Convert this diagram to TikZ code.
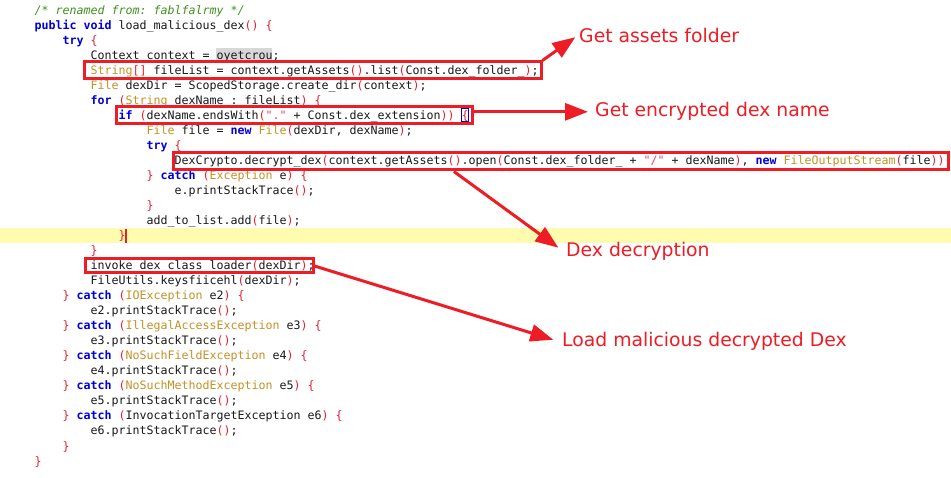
\documentclass[tikz,border=0pt]{standalone}
\usepackage{fontspec}
\setmonofont{DejaVu Sans Mono}
\newfontfamily\notefont{DejaVu Sans}
\usetikzlibrary{arrows.meta,calc}

\definecolor{annot}{RGB}{238,28,36}
\definecolor{codeink}{RGB}{25,25,25}
\definecolor{kwblue}{RGB}{0,0,215}
\definecolor{tygold}{RGB}{197,145,37}
\definecolor{brred}{RGB}{235,30,45}
\definecolor{litpink}{RGB}{232,72,104}
\definecolor{cmtgreen}{RGB}{63,145,30}
\definecolor{curline}{RGB}{255,252,175}
\definecolor{hlgrey}{RGB}{216,216,216}

\newcommand{\kw}[1]{{\bfseries\color{kwblue}#1}}
\newcommand{\ty}[1]{{\color{tygold}#1}}
\newcommand{\br}[1]{{\color{brred}#1}}
\newcommand{\lit}[1]{{\color{litpink}#1}}
\newcommand{\cmt}[1]{{\itshape\color{cmtgreen}#1}}

\frenchspacing

\begin{document}
\begin{tikzpicture}[x=1pt,y=-1pt,
    code/.style={anchor=base west,inner sep=0pt,text=codeink,font=\ttfamily\fontsize{11.63}{15}\selectfont},
    hlbox/.style={draw=annot,line width=3pt,inner sep=0pt,anchor=north west},
    note/.style={anchor=base west,inner sep=2pt,text=annot,font=\notefont\fontsize{18.8}{22}\selectfont},
    pointer/.style={draw=annot,line width=3pt,-{Triangle[length=23pt,width=17pt]}}]

    % Page and highlights behind the code
    \useasboundingbox (0,0) rectangle (951,478);
    \fill[white] (0,0) rectangle (951,478);
    \fill[curline] (0,228.5) rectangle (951,243.5);
    \fill[hlgrey] (216.3,48.5) rectangle (272.3,63.5);

    % Code lines
    \node[code] (cmt) at (34.3,15) {\cmt{/* renamed from: fablfalrmy */}};
    \node[code] (sig) at (34.3,30) {\kw{public} \kw{void} load\_malicious\_dex\br{()} \br{\{}};
    \node[code] (try1) at (62.3,45) {\kw{try} \br{\{}};
    \node[code] (ctx) at (90.3,60) {Context context = oyetcrou;};
    \node[code] (files) at (90.3,75) {\ty{String}\br{[]} fileList = context.getAssets\br{()}.list\br{(}Const.dex\_folder\_\br{)};};
    \node[code] (dir) at (90.3,90) {\ty{File} dexDir = ScopedStorage.create\_dir\br{(}context\br{)};};
    \node[code] (loop) at (90.3,105) {\kw{for} \br{(}\ty{String} dexName : fileList\br{)} \br{\{}};
    \node[code] (cond) at (118.3,120) {\kw{if} \br{(}dexName.endsWith\br{(}\lit{"."} + Const.dex\_extension\br{))} \br{\{}};
    \node[code] (newfile) at (146.3,135) {\ty{File} file = \kw{new} \ty{File}\br{(}dexDir, dexName\br{)};};
    \node[code] (try2) at (146.3,150) {\kw{try} \br{\{}};
    \node[code] (decrypt) at (174.3,165) {DexCrypto.decrypt\_dex\br{(}context.getAssets\br{()}.open\br{(}Const.dex\_folder\_ + \lit{"/"} + dexName\br{)}, \kw{new} \ty{FileOutputStream}\br{(}file\br{))};};
    \node[code] (catch) at (146.3,180) {\br{\}} \kw{catch} \br{(}\ty{Exception} e\br{)} \br{\{}};
    \node[code] (trace) at (174.3,195) {e.printStackTrace\br{()};};
    \node[code] (close1) at (146.3,210) {\br{\}}};
    \node[code] (add) at (146.3,225) {add\_to\_list.add\br{(}file\br{)};};
    \node[code] (close2) at (118.3,240) {\br{\}}};
    \node[code] (close3) at (90.3,255) {\br{\}}};
    \node[code] (invoke) at (90.3,270) {invoke\_dex\_class\_loader\br{(}dexDir\br{)};};
    \node[code] (keys) at (90.3,285) {FileUtils.keysfiicehl\br{(}dexDir\br{)};};

    % Catch blocks
    \foreach \exc/\ev [count=\i from 0] in {IOException/e2,IllegalAccessException/e3,NoSuchFieldException/e4,NoSuchMethodException/e5} {
        \node[code] (catch\i) at (62.3,{300+30*\i}) {\br{\}} \kw{catch} \br{(}\ty{\exc} \ev\br{)} \br{\{}};
        \node[code] (trace\i) at (90.3,{315+30*\i}) {\ev.printStackTrace\br{()};};
    }
    \node[code] (catch4) at (62.3,420) {\br{\}} \kw{catch} \br{(}InvocationTargetException e6\br{)} \br{\{}};
    \node[code] (trace4) at (90.3,435) {e6.printStackTrace\br{()};};
    \node[code] (close4) at (62.3,450) {\br{\}}};
    \node[code] (close5) at (34.3,465) {\br{\}}};

    % Bracket match and cursor
    \draw[kwblue,line width=0.8pt] (461.5,108.5) rectangle (468,121.5);
    \fill[annot] (124.7,229) rectangle (126.7,243);

    % Boxes round the interesting calls
    \node[hlbox,minimum width=457pt,minimum height=17pt] (assetsbox) at (82.5,60.5) {};
    \node[hlbox,minimum width=356pt,minimum height=17pt] (namebox) at (114.5,105.5) {};
    \node[hlbox,minimum width=775pt,minimum height=17pt] (decryptbox) at (171.5,151.5) {};
    \node[hlbox,minimum width=228pt,minimum height=14pt] (loaderbox) at (83.5,257.5) {};

    % Notes
    \node[note] (assets) at (577,43) {Get assets folder};
    \node[note] (encname) at (593,117) {Get encrypted dex name};
    \node[note] (decr) at (564,257) {Dex decryption};
    \node[note] (load) at (560,347) {Load malicious decrypted Dex};

    % Arrows from boxes to notes
    \draw[pointer,shorten >=2pt] (assetsbox.north east) -- (assets.west);
    \draw[pointer,shorten >=5pt] (namebox.east |- encname.west) -- (encname.west);
    \draw[pointer,shorten >=7pt] ($(decryptbox.south west)!0.363!(decryptbox.south east)$) -- (decr.west);
    \draw[pointer,shorten >=7pt] (loaderbox.east) -- (load.west);

\end{tikzpicture}
\end{document}
